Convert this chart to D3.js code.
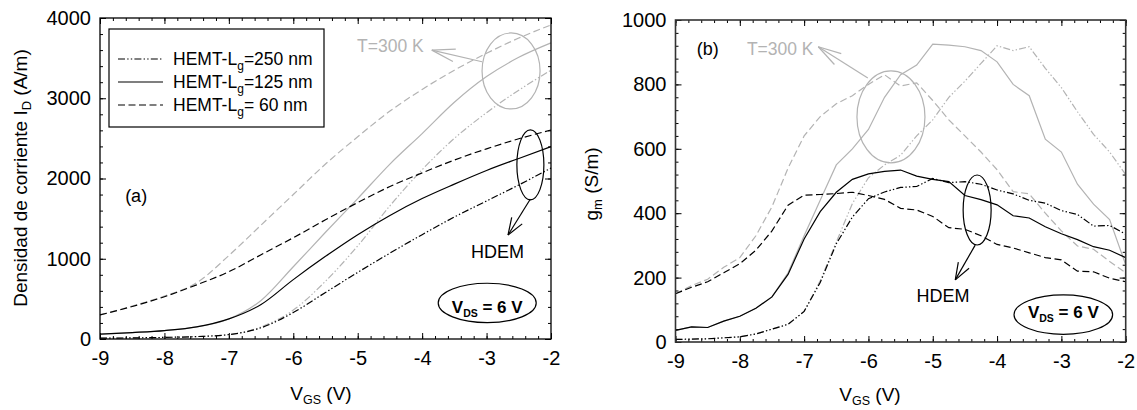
<!DOCTYPE html>
<html><head><meta charset="utf-8">
<script src="https://cdn.jsdelivr.net/npm/d3@7/dist/d3.min.js"></script>
<style>
html,body{margin:0;padding:0;background:#fff;}
svg{display:block;}
</style></head><body>
<svg id="fig" width="1137" height="410"></svg>
<script>
// ---- (a) drain current density vs gate voltage, V_DS = 6 V ----
const vgsA = [-9, -8.5, -8, -7.5, -7, -6.5, -6, -5.5, -5, -4.5, -4, -3.5, -3, -2.5, -2];
const idHdem250 = [10, 14, 20, 30, 55, 140, 330, 580, 830, 1070, 1300, 1520, 1720, 1920, 2130];
const idHdem125 = [60, 80, 105, 150, 250, 430, 740, 1030, 1300, 1540, 1750, 1930, 2100, 2250, 2397];
const idHdem60  = [300, 405, 527, 675, 838, 1050, 1262, 1485, 1700, 1900, 2070, 2230, 2370, 2495, 2604];
const id300K250 = [10, 14, 20, 30, 55, 150, 360, 720, 1160, 1660, 2110, 2500, 2820, 3100, 3350];
const id300K125 = [60, 80, 105, 150, 250, 480, 900, 1330, 1750, 2180, 2560, 2950, 3270, 3510, 3690];
const id300K60  = [300, 410, 535, 700, 1040, 1420, 1800, 2180, 2520, 2840, 3110, 3350, 3560, 3750, 3913];

// ---- (b) transconductance vs gate voltage ----
const vgsB = [-9, -8.75, -8.5, -8.25, -8, -7.75, -7.5, -7.25, -7, -6.75, -6.5, -6.25, -6, -5.75, -5.5,
              -5.25, -5, -4.75, -4.5, -4.25, -4, -3.75, -3.5, -3.25, -3, -2.75, -2.5, -2.25, -2];
const gmHdem250 = [8, 9, 10, 13, 16, 25, 40, 55, 95, 185, 305, 388, 445, 466, 480,
                   483, 508, 495, 498, 490, 472, 460, 440, 431, 408, 396, 360, 362, 335];
const gmHdem125 = [36, 47, 45, 65, 80, 105, 140, 210, 320, 405, 465, 505, 522, 530, 534,
                   515, 505, 498, 455, 442, 426, 392, 385, 358, 336, 318, 296, 285, 262];
const gmHdem60  = [150, 170, 187, 215, 243, 285, 345, 425, 456, 458, 461, 465, 455, 443, 415,
                   410, 390, 355, 350, 330, 303, 292, 277, 262, 255, 220, 218, 198, 187];
const gm300K250 = [8, 9, 10, 13, 16, 25, 40, 55, 95, 190, 310, 430, 510, 550, 580,
                   640, 690, 760, 810, 865, 920, 905, 917, 850, 790, 715, 645, 590, 520];
const gm300K125 = [36, 47, 45, 65, 80, 105, 140, 215, 330, 440, 550, 600, 660, 760, 830,
                   860, 925, 922, 917, 905, 870, 800, 765, 630, 590, 490, 428, 380, 240];
const gm300K60  = [150, 175, 195, 232, 262, 330, 420, 540, 640, 700, 740, 765, 800, 830, 795,
                   805, 750, 690, 640, 590, 535, 467, 460, 400, 345, 298, 288, 250, 215];

// axis ticks
const vgsTicks = [-9, -8, -7, -6, -5, -4, -3, -2];
const idTicks = [0, 1000, 2000, 3000, 4000];
const gmTicks = [0, 200, 400, 600, 800, 1000];

const legendLabels = [["HEMT-L", "g", "=250 nm"], ["HEMT-L", "g", "=125 nm"], ["HEMT-L", "g", "= 60 nm"]];

const FONT = "'Liberation Sans', Arial, Helvetica, sans-serif";
const GRAY = "#b3b3b3";
const DASH = { l250: "7,2.2,1.4,2.2,1.4,2.2", l125: null, l60: "7,3.5" };

const svg = d3.select("#fig").attr("font-family", FONT);

const boxA = { left: 100, right: 551, top: 18, bottom: 339 };
const boxB = { left: 675.5, right: 1125.7, top: 20, bottom: 342 };

const xA = d3.scaleLinear().domain([-9, -2]).range([boxA.left, boxA.right]);
const yA = d3.scaleLinear().domain([0, 4000]).range([boxA.bottom, boxA.top]);
const xB = d3.scaleLinear().domain([-9, -2]).range([boxB.left, boxB.right]);
const yB = d3.scaleLinear().domain([0, 1000]).range([boxB.bottom, boxB.top]);

// text with sub-scripted parts: parts = [[string, isSub], ...]
function rich(t, parts, subSize, shift) {
  let low = false;
  parts.forEach(([s, sub]) => {
    const ts = t.append("tspan").text(s);
    if (sub && !low) { ts.attr("dy", shift); low = true; }
    else if (!sub && low) { ts.attr("dy", -shift); low = false; }
    if (sub) ts.attr("font-size", subSize);
  });
  return t;
}

function axes(g, x, y, box, yTicks, yMinorStep, frameColor, frameWidth, xLabelPad) {
  const xMinor = d3.range(-9, -1.99, 0.2);
  const yMinor = d3.range(0, y.domain()[1] + 1e-6, yMinorStep);
  const put = (axis, tx, ty, labels) => {
    const a = g.append("g").attr("transform", `translate(${tx},${ty})`).call(axis);
    a.select(".domain").remove();
    a.selectAll("line").attr("stroke", "#000").attr("stroke-width", 1);
    a.attr("font-size", 20).attr("font-family", FONT);
    a.selectAll("text").attr("fill", "#000");
    if (!labels) a.selectAll("text").remove();
    return a;
  };
  const fmt = d => String(d);
  put(d3.axisBottom(x).tickValues(xMinor).tickSize(-3).tickFormat(""), 0, box.bottom, false);
  put(d3.axisTop(x).tickValues(xMinor).tickSize(-3).tickFormat(""), 0, box.top, false);
  put(d3.axisBottom(x).tickValues(vgsTicks).tickSize(-6).tickPadding(xLabelPad).tickFormat(fmt), 0, box.bottom, true);
  put(d3.axisTop(x).tickValues(vgsTicks).tickSize(-6).tickFormat(""), 0, box.top, false);
  put(d3.axisLeft(y).tickValues(yMinor).tickSize(-3).tickFormat(""), box.left, 0, false);
  put(d3.axisRight(y).tickValues(yMinor).tickSize(-3).tickFormat(""), box.right, 0, false);
  put(d3.axisLeft(y).tickValues(yTicks).tickSize(-6).tickPadding(9).tickFormat(fmt), box.left, 0, true);
  put(d3.axisRight(y).tickValues(yTicks).tickSize(-6).tickFormat(""), box.right, 0, false);
  g.append("rect")
    .attr("x", box.left).attr("y", box.top)
    .attr("width", box.right - box.left).attr("height", box.bottom - box.top)
    .attr("fill", "none").attr("stroke", frameColor).attr("stroke-width", frameWidth);
}

function curves(g, x, y, xs, series, curveType) {
  const line = d3.line().x(d => x(d[0])).y(d => y(d[1])).curve(curveType);
  series.forEach(s => {
    g.append("path")
      .datum(xs.map((v, i) => [v, s.values[i]]))
      .attr("d", line)
      .attr("fill", "none")
      .attr("stroke", s.color)
      .attr("stroke-width", s.width)
      .attr("stroke-dasharray", s.dash);
  });
}

function arrow(g, tail, tip, color, barb, spread) {
  g.append("line").attr("x1", tail[0]).attr("y1", tail[1]).attr("x2", tip[0]).attr("y2", tip[1])
    .attr("stroke", color).attr("stroke-width", 1.2);
  const ang = Math.atan2(tail[1] - tip[1], tail[0] - tip[0]);
  [-spread, spread].forEach(s => {
    g.append("line").attr("x1", tip[0]).attr("y1", tip[1])
      .attr("x2", tip[0] + barb * Math.cos(ang + s)).attr("y2", tip[1] + barb * Math.sin(ang + s))
      .attr("stroke", color).attr("stroke-width", 1.2);
  });
}

function vdsBadge(g, x, y, at, rx, ry, textY) {
  const [cx, cy] = [x(at[0]), y(at[1])];
  g.append("ellipse").attr("cx", cx).attr("cy", cy).attr("rx", rx).attr("ry", ry)
    .attr("fill", "#fff").attr("stroke", "#000").attr("stroke-width", 1.2);
  const t = g.append("text").attr("x", cx).attr("y", y(textY)).attr("text-anchor", "middle")
    .attr("font-size", 17).attr("font-weight", "bold").attr("fill", "#000");
  rich(t, [["V", false], ["DS", true], [" = 6 V", false]], 10.5, 4);
}

// ================= panel (a) =================
const gA = svg.append("g");
curves(gA, xA, yA, vgsA, [
  { values: id300K250, color: GRAY, width: 1.2, dash: DASH.l250 },
  { values: id300K125, color: GRAY, width: 1.2, dash: DASH.l125 },
  { values: id300K60,  color: GRAY, width: 1.2, dash: DASH.l60 },
  { values: idHdem250, color: "#000", width: 1.2, dash: DASH.l250 },
  { values: idHdem125, color: "#000", width: 1.2, dash: DASH.l125 },
  { values: idHdem60,  color: "#000", width: 1.2, dash: DASH.l60 }
], d3.curveMonotoneX);
axes(gA, xA, yA, boxA, idTicks, 200, "#000", 1.3, 12);

// legend
const leg = gA.append("g");
leg.append("rect").attr("x", 109).attr("y", 29).attr("width", 215).attr("height", 98)
  .attr("fill", "#fff").attr("stroke", "#000").attr("stroke-width", 1.2);
[DASH.l250, DASH.l125, DASH.l60].forEach((dash, i) => {
  const cy = 59 + i * 23;
  leg.append("line").attr("x1", 118).attr("x2", 163).attr("y1", cy).attr("y2", cy)
    .attr("stroke", "#000").attr("stroke-width", 1.2).attr("stroke-dasharray", dash);
  const t = leg.append("text").attr("x", 173).attr("y", cy + 6).attr("font-size", 17.5).attr("fill", "#000");
  const [a, sub, b] = legendLabels[i];
  rich(t, [[a, false], [sub, true], [b, false]], 12, 5);
});

// annotations (a)
gA.append("text").attr("x", xA(-8.61)).attr("y", yA(1707)).attr("font-size", 18).text("(a)");
gA.append("ellipse").attr("cx", xA(-2.62)).attr("cy", yA(3340)).attr("rx", 29).attr("ry", 38)
  .attr("fill", "none").attr("stroke", GRAY).attr("stroke-width", 1.2);
gA.append("text").attr("x", xA(-5.01)).attr("y", yA(3580)).attr("font-size", 17.5).attr("fill", GRAY).text("T=300 K");
arrow(gA, [xA(-3.07), yA(3455)], [xA(-3.85), yA(3600)], GRAY, 24, 0.27);
gA.append("ellipse").attr("cx", xA(-2.32)).attr("cy", yA(2170)).attr("rx", 13.5).attr("ry", 35)
  .attr("fill", "none").attr("stroke", "#000").attr("stroke-width", 1.2);
arrow(gA, [xA(-2.32), yA(1745)], [xA(-2.667), yA(1296)], "#000", 18, 0.35);
gA.append("text").attr("x", xA(-2.83)).attr("y", yA(1009)).attr("text-anchor", "middle")
  .attr("font-size", 18).text("HDEM");
vdsBadge(gA, xA, yA, [-2.99, 449], 49, 19.7, 324);

// axis titles (a)
rich(gA.append("text").attr("x", 321).attr("y", 400).attr("text-anchor", "middle").attr("font-size", 19),
  [["V", false], ["GS", true], [" (V)", false]], 12.5, 3.5);
rich(gA.append("text").attr("transform", "translate(27,178) rotate(-90)").attr("text-anchor", "middle").attr("font-size", 19),
  [["Densidad de corriente I", false], ["D", true], [" (A/m)", false]], 13, 4);

// ================= panel (b) =================
const gB = svg.append("g");
curves(gB, xB, yB, vgsB, [
  { values: gm300K250, color: GRAY, width: 1.2, dash: DASH.l250 },
  { values: gm300K125, color: GRAY, width: 1.2, dash: DASH.l125 },
  { values: gm300K60,  color: GRAY, width: 1.2, dash: DASH.l60 },
  { values: gmHdem250, color: "#000", width: 1.2, dash: DASH.l250 },
  { values: gmHdem125, color: "#000", width: 1.2, dash: DASH.l125 },
  { values: gmHdem60,  color: "#000", width: 1.2, dash: DASH.l60 }
], d3.curveLinear);
axes(gB, xB, yB, boxB, gmTicks, 40, "#333", 1.6, 12);

// annotations (b)
gB.append("text").attr("x", xB(-8.67)).attr("y", yB(891)).attr("font-size", 18).text("(b)");
gB.append("text").attr("x", xB(-7.89)).attr("y", yB(891)).attr("font-size", 17.5).attr("fill", GRAY).text("T=300 K");
gB.append("ellipse").attr("cx", xB(-5.65)).attr("cy", yB(699)).attr("rx", 34).attr("ry", 46)
  .attr("fill", "none").attr("stroke", GRAY).attr("stroke-width", 1.2);
arrow(gB, [xB(-6.01), yB(820)], [xB(-6.78), yB(917)], GRAY, 24, 0.27);
gB.append("ellipse").attr("cx", xB(-4.31)).attr("cy", yB(410)).attr("rx", 14).attr("ry", 35)
  .attr("fill", "none").attr("stroke", "#000").attr("stroke-width", 1.2);
arrow(gB, [xB(-4.34), yB(301)], [xB(-4.65), yB(193)], "#000", 18, 0.35);
gB.append("text").attr("x", xB(-4.84)).attr("y", yB(124)).attr("text-anchor", "middle")
  .attr("font-size", 18).text("HDEM");
vdsBadge(gB, xB, yB, [-2.97, 85], 49.3, 19.7, 75);

// axis titles (b)
rich(gB.append("text").attr("x", 870).attr("y", 401).attr("text-anchor", "middle").attr("font-size", 19),
  [["V", false], ["GS", true], [" (V)", false]], 12.5, 3.5);
rich(gB.append("text").attr("transform", "translate(598,184) rotate(-90)").attr("text-anchor", "middle").attr("font-size", 19),
  [["g", false], ["m", true], [" (S/m)", false]], 13, 4);
</script>
</body></html>
